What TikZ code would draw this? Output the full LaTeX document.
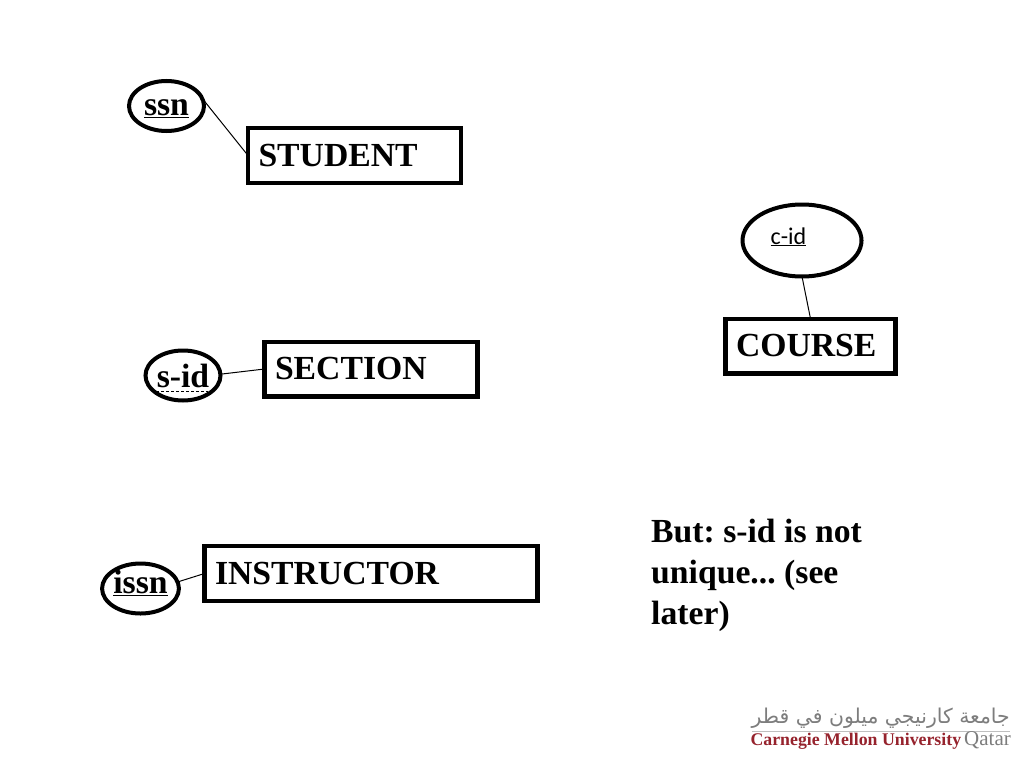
\documentclass[tikz,border=0pt]{standalone}
\usepackage{fontspec}
\setmainfont{Liberation Serif}
\newfontfamily\bodyfont{Carlito}
\newfontfamily\arabicfont[Script=Arabic]{DejaVu Sans}
\TeXXeTstate=1
\usetikzlibrary{shapes.geometric}
\definecolor{logored}{RGB}{150,35,45}
\definecolor{logogray}{RGB}{125,125,125}
\tikzset{
    entitybox/.style={draw,line width=4.4pt,inner sep=0pt,outer sep=0pt,minimum height=54.6pt,
        inner xsep=10.5pt,align=left,font=\fontsize{33.7}{41}\selectfont\bfseries},
    attrib/.style={draw,ellipse,line width=4pt,inner sep=0pt,outer sep=0pt,text depth=0pt,
        font=\fontsize{33.7}{41}\selectfont\bfseries},
    link/.style={line width=1pt}
}
\begin{document}
\begin{tikzpicture}[x=1pt,y=1pt]
    \frenchspacing
    \useasboundingbox (0,0) rectangle (1024,-768);

    % Entidades
    \node[entitybox,text width=192pt] (student) at (354.5,-155.5) {STUDENT};
    \node[entitybox,text width=192pt] (section) at (371,-369) {SECTION};
    \node[entitybox,text width=312pt] (instructor) at (371,-573.5) {INSTRUCTOR};
    \node[entitybox,text width=149pt] (course) at (810.5,-346) {COURSE};

    % Atributos
    \node[attrib,minimum width=75pt,minimum height=50pt,text height=18pt] (ssn) at (166.5,-106) {\underline{ssn}};
    \node[attrib,minimum width=75pt,minimum height=50pt,text height=23pt] (sid) at (183,-375.5) {s-id};
    \node[attrib,minimum width=75pt,minimum height=50pt,text height=9pt] (issn) at (140.5,-588.5) {\underline{issn}};
    \node[attrib,minimum width=119pt,minimum height=72pt,text height=7pt,font=\fontsize{24}{28}\bodyfont] (cid) at (802,-240.5)
        {\hspace*{-27pt}\underline{c-id}};

    \coordinate (dashL) at (156,-391);
    \coordinate (dashR) at (208,-391);
    \draw[link,dash pattern=on 3pt off 2pt] (dashL) -- (dashR);

    \draw[link] (ssn.12) -- (student.west);
    \draw[link] (sid.2) -- (section.west);
    \draw[link] (issn.10) -- (instructor.west);
    \draw[link] (cid.south) -- (course.north);

    % Nota
    \node[anchor=north west,inner sep=0pt,align=left,font=\fontsize{33.7}{41}\selectfont\bfseries] (note)
        at (651,-519) {But: s-id is not\\unique... (see\\later)};

    % Logo
    \node[anchor=east,inner sep=0pt,text=logogray,font=\fontsize{20.4}{24}\arabicfont] (logoar) at (1010,-718)
        {\beginR جامعة كارنيجي ميلون في قطر\endR};
    \coordinate (ruleL) at (752,-731);
    \coordinate (ruleR) at (1010,-731);
    \draw[line width=0.5pt,black!25] (ruleL) -- (ruleR);
    \node[anchor=east,inner sep=0pt,font=\fontsize{17.8}{22}\selectfont] (logoen) at (1011,-741)
        {\textcolor{logored}{\bfseries Carnegie Mellon University}\hspace{3pt}\textcolor{logogray}{\fontsize{21}{22}\selectfont Qatar}};
\end{tikzpicture}
\end{document}
